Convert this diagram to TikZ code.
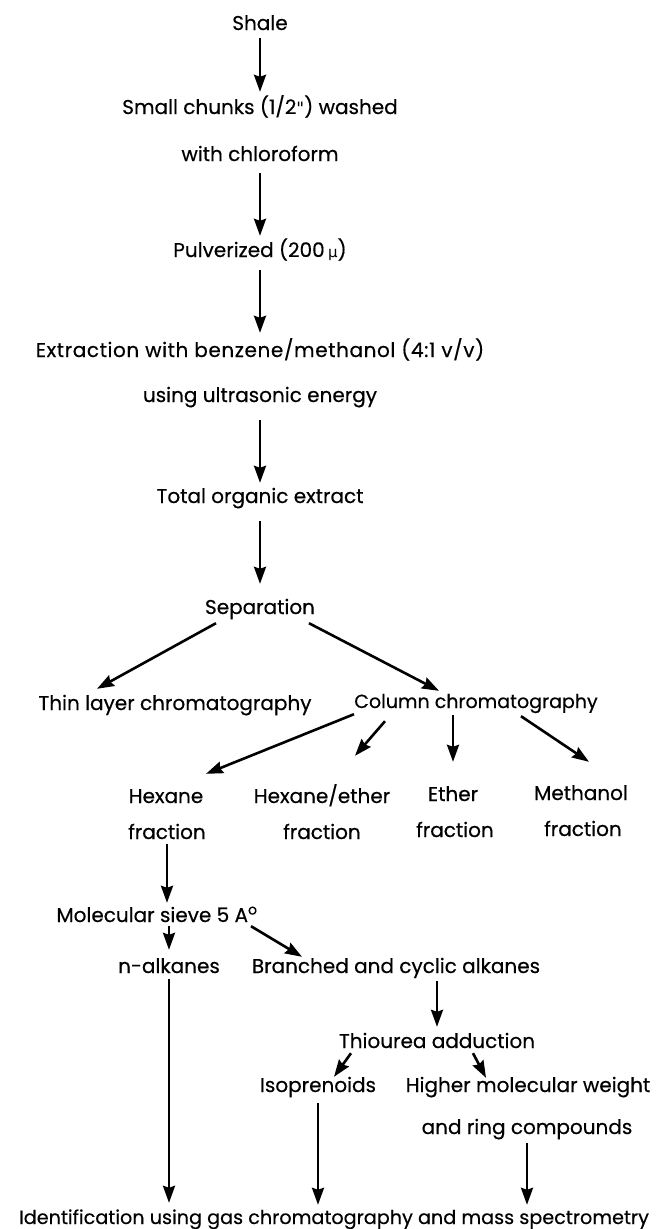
\documentclass[tikz,border=0pt]{standalone}
\usepackage{fontspec}
\setmainfont[UprightFeatures={FakeBold=0.4}]{Poppins}
\newfontfamily\mufont{DejaVu Sans}
\usetikzlibrary{arrows.meta}

\begin{document}
\begin{tikzpicture}[x=1pt,y=-1pt,
    txt node/.style={inner sep=0pt,anchor=base,text height=14pt,text depth=4pt,
                     font=\fontsize{20}{24}\selectfont},
    arr/.style={-{Stealth[length=17pt,width=12pt,inset=2pt]},line width=2.6pt}]

  \useasboundingbox (0,0) rectangle (658,1229);

  % preparation
  \draw (260,30)   node[txt node] (shale)  {Shale};
  \draw (260,114)  node[txt node] (wash)   {Small chunks (1/2{\mufont\fontsize{17}{20}\selectfont "}) washed};
  \draw (260,161)  node[txt node] (chloro) {with chloroform};
  \draw (260,257)  node[txt node] (pulv)   {Pulverized (200\,{\mufont\fontsize{15}{18}\selectfont μ})};
  \draw (260,357)  node[txt node,font=\fontsize{20}{24}\selectfont\addfontfeature{LetterSpace=3}] (extr)
    {Extraction with benzene/methanol (4:1 v/v)};
  \draw (260,402)  node[txt node] (ultra)  {using ultrasonic energy};
  \draw (260,503)  node[txt node] (total)  {Total organic extract};
  \draw (260,614)  node[txt node] (sep)    {Separation};

  % chromatography
  \draw (175,710)  node[txt node] (thin)   {Thin layer chromatography};
  \draw (476,708)  node[txt node,font=\fontsize{19}{24}\selectfont] (column) {Column chromatography};
  \draw (166,803)  node[txt node] (hex)     {Hexane};
  \draw (167,839)  node[txt node] (hexf)    {fraction};
  \draw (322,803)  node[txt node] (hexeth)  {Hexane/ether};
  \draw (322,839)  node[txt node] (hexethf) {fraction};
  \draw (453,801)  node[txt node] (eth)     {Ether};
  \draw (455,837)  node[txt node] (ethf)    {fraction};
  \draw (581,800)  node[txt node] (meth)    {Methanol};
  \draw (583,836)  node[txt node] (methf)   {fraction};

  % hexane fraction
  \draw (157,922)  node[txt node] (sieve)  {Molecular sieve 5 A\textsuperscript{o}};
  \draw (169,973)  node[txt node] (nalk)   {n-alkanes};
  \draw (396,973)  node[txt node] (branch) {Branched and cyclic alkanes};
  \draw (437,1048) node[txt node] (thio)   {Thiourea adduction};
  \draw (318,1092) node[txt node] (iso)    {Isoprenoids};
  \draw (528,1092) node[txt node] (higher) {Higher molecular weight};
  \draw (527,1134) node[txt node] (ring)   {and ring compounds};
  \draw (334,1224) node[txt node,font=\fontsize{19.2}{24}\selectfont] (ident)
    {Identification using gas chromatography and mass spectrometry};

  \path[arr]
    (shale)  edge[shorten <=4pt,shorten >=8pt]   (wash)
    (chloro) edge[shorten <=8pt,shorten >=7pt]   (pulv)
    (pulv)   edge[shorten <=9pt,shorten >=10pt]  (extr)
    (ultra)  edge[shorten <=14pt,shorten >=6pt]  (total)
    (total)  edge[shorten <=14pt,shorten >=16pt] (sep)
    ([xshift=-44pt,yshift=-5pt]sep.south) edge ([xshift=-78pt,yshift=7pt]thin.north)
    ([xshift=49pt,yshift=-5pt]sep.south)  edge ([xshift=-37pt,yshift=3pt]column.north)
    ([xshift=-122pt,yshift=-2pt]column.south) edge ([xshift=40pt,yshift=15pt]hex.north)
    ([xshift=-91pt,yshift=-9pt]column.south)  edge ([xshift=33pt,yshift=33pt]hexeth.north)
    (eth |- column.south) edge[shorten <=3pt,shorten >=25pt] (eth)
    ([xshift=45pt,yshift=-4pt]column.south)   edge ([xshift=8pt,yshift=24pt]meth.north)
    (hexf)  edge[shorten <=1pt,shorten >=5pt] (hexf |- sieve.north)
    (nalk |- sieve.south) edge[shorten >=9pt] (nalk)
    ([xshift=94pt]sieve.south) edge ([xshift=-94pt,yshift=2pt]branch.north)
    (thio |- branch.south) edge[shorten <=4pt,shorten >=7pt] (thio)
    ([xshift=-86pt,yshift=-1pt]thio.south) edge ([xshift=16pt,yshift=1pt]iso.north)
    ([xshift=36pt,yshift=-1pt]thio.south)  edge ([xshift=-42pt]higher.north)
    (nalk) edge[shorten <=2pt,shorten >=7pt] (nalk |- ident.north)
    (iso)  edge[shorten <=7pt,shorten >=5pt] (iso |- ident.north)
    (ring) edge[shorten <=5pt,shorten >=5pt] (ring |- ident.north);

\end{tikzpicture}
\end{document}
